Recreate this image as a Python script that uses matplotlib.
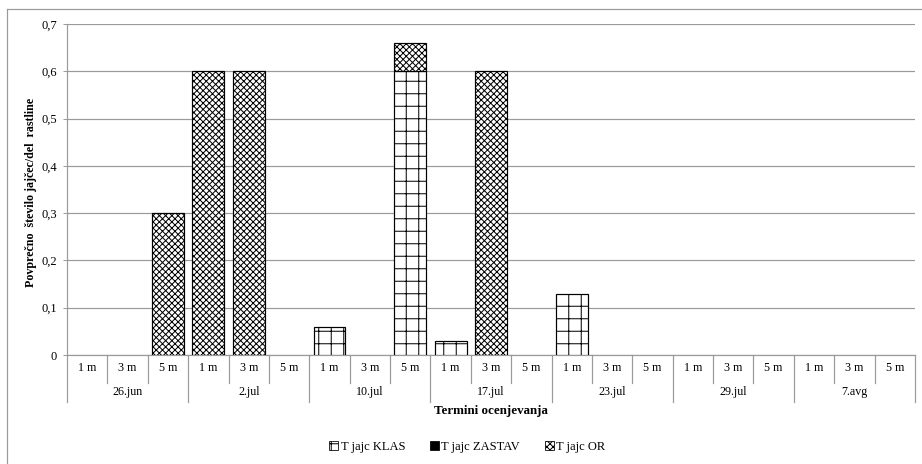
"""Stacked hatched bars: average number of eggs per plant part by date and distance."""

import matplotlib

matplotlib.use("Agg")
import matplotlib.pyplot as plt
import numpy as np
from matplotlib.patches import Patch
from matplotlib.lines import Line2D

# --- Data ---------------------------------------------------------------------
DATES = ["26.jun", "2.jul", "10.jul", "17.jul", "23.jul", "29.jul", "7.avg"]
DISTANCES = ["1 m", "3 m", "5 m"]

T_JAJC_KLAS = [0, 0, 0, 0, 0, 0, 0.06, 0, 0.60, 0.03, 0, 0, 0.13, 0, 0, 0, 0, 0, 0, 0, 0]
T_JAJC_ZASTAV = [0, 0, 0, 0, 0, 0, 0, 0, 0, 0, 0, 0, 0, 0, 0, 0, 0, 0, 0, 0, 0]
T_JAJC_OR = [0, 0, 0.30, 0.60, 0.60, 0, 0, 0, 0.06, 0, 0.60, 0, 0, 0, 0, 0, 0, 0, 0, 0, 0]

SERIES = [
    ("T jajc KLAS", T_JAJC_KLAS, "white", "+"),
    ("T jajc ZASTAV", T_JAJC_ZASTAV, "black", None),
    ("T jajc OR", T_JAJC_OR, "white", "xxxx"),
]

Y_TICKS = [0, 0.1, 0.2, 0.3, 0.4, 0.5, 0.6, 0.7]
Y_TICK_LABELS = ["0", "0,1", "0,2", "0,3", "0,4", "0,5", "0,6", "0,7"]

# --- Figure geometry (pixels) -------------------------------------------------
DPI = 75
W, H = 922, 464
AX_LEFT, AX_RIGHT, AX_TOP, AX_BOTTOM = 67, 915, 24, 355
GRID_COLOR = "#9a9a9a"


def px(size):
    """Convert a pixel size to points at the figure dpi."""
    return size * 72 / DPI


plt.rcParams["font.family"] = ["Liberation Serif", "DejaVu Serif"]
plt.rcParams["hatch.linewidth"] = px(1.0)

fig = plt.figure(figsize=(W / DPI, H / DPI), dpi=DPI)
ax = fig.add_axes(
    [AX_LEFT / W, 1 - AX_BOTTOM / H, (AX_RIGHT - AX_LEFT) / W, (AX_BOTTOM - AX_TOP) / H]
)

n = len(DATES) * len(DISTANCES)
x = np.arange(n)
bottom = np.zeros(n)
for label, values, color, hatch in SERIES:
    vals = np.asarray(values, dtype=float)
    mask = vals > 0
    if mask.any():
        ax.bar(
            x[mask], vals[mask], width=0.79, bottom=bottom[mask], color=color,
            edgecolor="black", hatch=hatch, linewidth=px(1.2), zorder=3,
        )
    bottom += vals

ax.set_xlim(-0.5, n - 0.5)
ax.set_ylim(0, 0.7)
ax.set_yticks(Y_TICKS)
ax.set_yticklabels(Y_TICK_LABELS, fontsize=px(12.5))
ax.tick_params(axis="y", length=px(4), width=px(1), color=GRID_COLOR, pad=px(6))
ax.set_xticks([])
ax.yaxis.grid(True, color=GRID_COLOR, linewidth=px(1.2), zorder=0)
for side in ("top", "right"):
    ax.spines[side].set_visible(False)
for side in ("left", "bottom"):
    ax.spines[side].set_color(GRID_COLOR)
    ax.spines[side].set_linewidth(px(1.2))


def ay(pix):
    """Pixel row below the plot to axes y coordinate."""
    return (AX_BOTTOM - pix) / (AX_BOTTOM - AX_TOP)


# Multi-level category axis
trans = ax.get_xaxis_transform()
for i in range(n):
    ax.text(i, ay(368), DISTANCES[i % 3], ha="center", va="center",
            fontsize=px(12), transform=trans)
for g, date in enumerate(DATES):
    ax.text(g * 3 + 1, ay(392), date, ha="center", va="center",
            fontsize=px(12), transform=trans)
for i in range(n + 1):
    end = 402 if i % 3 == 0 else 383
    ax.add_line(Line2D([i - 0.5, i - 0.5], [0, ay(end)], transform=trans,
                       color=GRID_COLOR, linewidth=px(1.2), clip_on=False))

ax.text(0.5, ay(411), "Termini ocenjevanja", ha="center", va="center",
        fontsize=px(13), fontweight="bold", transform=ax.transAxes)
fig.text(31 / W, 1 - 192 / H, "Povprečno  število jajčec/del  rastline",
         rotation=90, ha="center", va="center", fontsize=px(12), fontweight="bold")

# Legend
handles = [
    Patch(facecolor=color, edgecolor="black", hatch=hatch, linewidth=px(0.8), label=label)
    for label, _, color, hatch in SERIES
]
fig.legend(handles=handles, loc="center", bbox_to_anchor=(0.507, 1 - 447 / H),
           ncol=3, frameon=False, fontsize=px(12.5), handlelength=0.7,
           handleheight=0.7, handletextpad=0.2, columnspacing=2.0)

# Outer chart border (left and top edges visible)
fig.add_artist(Line2D([7 / W, 7 / W], [0, 1 - 9 / H], transform=fig.transFigure,
                      color=GRID_COLOR, linewidth=px(1.2)))
fig.add_artist(Line2D([7 / W, 1], [1 - 9 / H, 1 - 9 / H], transform=fig.transFigure,
                      color=GRID_COLOR, linewidth=px(1.2)))

fig.savefig("out.png", dpi=DPI)
